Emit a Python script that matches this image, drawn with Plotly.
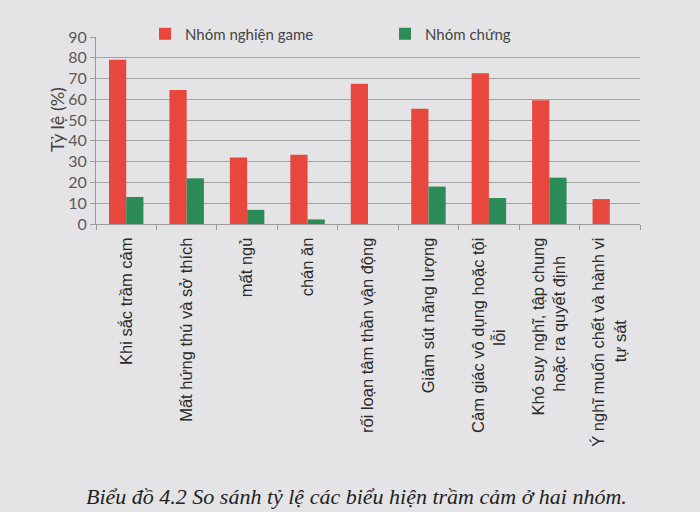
import plotly.graph_objects as go

NB = "\u00a0"

categories = [
    "Khi sắc trầm cảm",
    "Mất hứng thú và sở thích",
    "mất ngủ",
    "chán ăn",
    "rối loạn tâm thần vận động",
    "Giảm sút năng lượng",
    "Cảm giác vô dụng hoặc tội<br>lỗi" + NB * 20,
    "Khó suy nghĩ, tập chung<br>hoặc ra quyết định" + NB * 4,
    "Ý nghĩ muốn chết và hành vi<br>tự sát" + NB * 18,
]
nghien_game = [79, 64.5, 32, 33.3, 67.5, 55.5, 72.5, 59.5, 12]
nhom_chung = [13, 22, 6.8, 2.2, 0, 18, 12.5, 22.3, 0]
y_ticks = [0, 10, 20, 30, 40, 50, 60, 70, 80, 90]

RED = "#e8473e"
GREEN = "#2b8c57"
BG = "#e4e4e6"

W, H = 700, 512
L, R, T, B = 96, 60, 37, 288
plot_h = H - T - B
plot_w = W - L - R

fig = go.Figure()
fig.add_trace(go.Bar(name="Nhóm nghiện game", x=categories, y=nghien_game,
                     marker=dict(color=RED, line=dict(width=0))))
fig.add_trace(go.Bar(name="Nhóm chứng", x=categories, y=nhom_chung,
                     marker=dict(color=GREEN, line=dict(width=0))))

fig.update_layout(
    width=W, height=H,
    margin=dict(l=L, r=R, t=T, b=B, pad=0, autoexpand=False),
    paper_bgcolor=BG, plot_bgcolor=BG,
    barmode="group", bargap=0.43, bargroupgap=0,
    showlegend=True,
    legend=dict(orientation="h", xref="container", yref="container",
                x=145 / W, xanchor="left",
                y=1 - 34 / H, yanchor="middle",
                entrywidth=195, entrywidthmode="pixels",
                bgcolor="rgba(0,0,0,0)",
                font=dict(family="Lato, Open Sans, sans-serif", size=15, color="#444444")),
    xaxis=dict(
        tickangle=-90, automargin=False, ticklabelstandoff=6,
        tickfont=dict(family="Liberation Sans, Arial, sans-serif", size=16.5, color="#2a2a2a"),
        showline=True, linecolor="#9a9a9a", linewidth=1,
        ticks="outside", tickson="boundaries", ticklen=5, tickcolor="#9a9a9a",
        showgrid=False,
    ),
    yaxis=dict(
        range=[0, 90], tickvals=y_ticks, automargin=False,
        tickfont=dict(family="Lato, Open Sans, sans-serif", size=16, color="#5a5a5a"),
        showline=True, linecolor="#9a9a9a", linewidth=1,
        ticks="outside", ticklen=5, tickcolor="#9a9a9a",
        showgrid=True, gridcolor="#a2a2a2", gridwidth=1,
        zeroline=False,
    ),
    annotations=[
        dict(
            text="Tỷ lệ (%)", textangle=-90,
            xref="paper", yref="paper",
            x=(57 - L) / plot_w, y=(H - B - 120) / plot_h,
            xanchor="center", yanchor="middle", showarrow=False,
            font=dict(family="Lato, Open Sans, sans-serif", size=18, color="#444444"),
        ),
        dict(
            text="<i>Biểu đồ 4.2 So sánh tỷ lệ các biểu hiện trầm cảm ở hai nhóm.</i>",
            xref="paper", yref="paper",
            x=(356 - L) / plot_w, y=-(496 - (H - B)) / plot_h,
            xanchor="center", yanchor="middle", showarrow=False,
            font=dict(family="Liberation Serif, Times New Roman, serif", size=22, color="#222222"),
        ),
    ],
)

fig.write_html("out.html")
